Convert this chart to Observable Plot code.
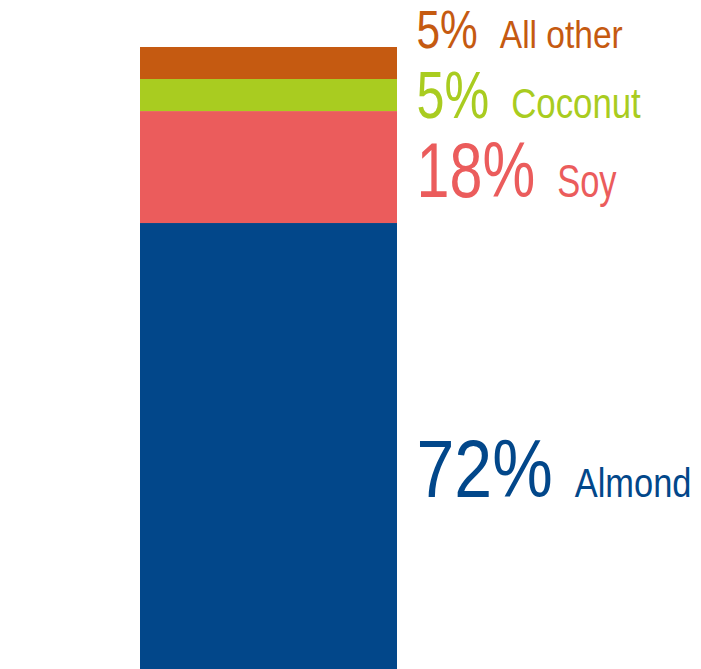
<!DOCTYPE html>
<html><head><meta charset="utf-8">
<script src="https://cdn.jsdelivr.net/npm/d3@7"></script>
<script src="https://cdn.jsdelivr.net/npm/@observablehq/plot@0.6"></script>
<style>body{margin:0;background:#fff} svg{display:block}</style>
</head><body><div id="chart"></div>
<script>
// Data
const categories = ["Almond", "Soy", "Coconut", "All other"];
const shares = [71.7, 18.0, 5.15, 5.15];
// Styles
const colors = ["#02478A", "#EB5C5C", "#A9CC20", "#C55A11"];
const pctFontSizes = [82, 78, 67, 53];
const pctStretch = [0.83, 0.76, 0.75, 0.80];
const nameFontSizes = [40.5, 46, 43, 39];
const nameStretch = [0.85, 0.75, 0.81, 0.86];
const labelDy = [50, 29.5, 22.5, -16];
const FONT = "'Liberation Sans', Arial, sans-serif";

let cum = 0;
const rows = categories.map((c, i) => {
  const lo = cum; cum += shares[i];
  return {bar: "total", category: c, share: shares[i], mid: (lo + cum) / 2,
          pct: Math.round(shares[i]) + "%", color: colors[i], i};
});

const ctx = document.createElement("canvas").getContext("2d");
function textWidth(t, size) { ctx.font = `${size}px ${FONT}`; return ctx.measureText(t).width; }

const barWidth = 257, left = 140, W = 701;
const pctDx = 416 - (left + barWidth / 2);
const gap = 22;

const labelMarks = rows.flatMap(d => {
  const ps = pctFontSizes[d.i], ns = nameFontSizes[d.i];
  const nameDx = pctDx + textWidth(d.pct, ps) * pctStretch[d.i] + gap;
  return [
    Plot.text([d], {x: "bar", y: "mid", text: "pct", fill: d.color, fontSize: ps,
      textAnchor: "start", lineAnchor: "bottom", dx: pctDx, dy: labelDy[d.i], fontFamily: FONT}),
    Plot.text([d], {x: "bar", y: "mid", text: "category", fill: d.color, fontSize: ns,
      textAnchor: "start", lineAnchor: "bottom", dx: nameDx, dy: labelDy[d.i], fontFamily: FONT})
  ];
});

const chart = Plot.plot({
  width: W, height: 669,
  marginLeft: left, marginRight: W - left - barWidth, marginTop: 47, marginBottom: 0,
  x: {type: "band", domain: ["total"], padding: 0, axis: null},
  y: {domain: [0, 100], axis: null},
  marks: [
    Plot.barY(rows, {x: "bar", y: "share", fill: "color"}),
    ...labelMarks
  ]
});
document.getElementById("chart").append(chart);

// condense the labels horizontally about their left edge (narrow typeface look)
const texts = chart.querySelectorAll("text");
rows.forEach((d, k) => {
  [[texts[2 * k], pctStretch[d.i]], [texts[2 * k + 1], nameStretch[d.i]]].forEach(([t, s]) => {
    if (!t) return;
    const bb = t.getBBox();
    const x0 = bb.x;
    const prev = t.getAttribute("transform") || "";
    t.setAttribute("transform", `${prev} translate(${x0},0) scale(${s},1) translate(${-x0},0)`.trim());
  });
});
</script>
</body></html>
